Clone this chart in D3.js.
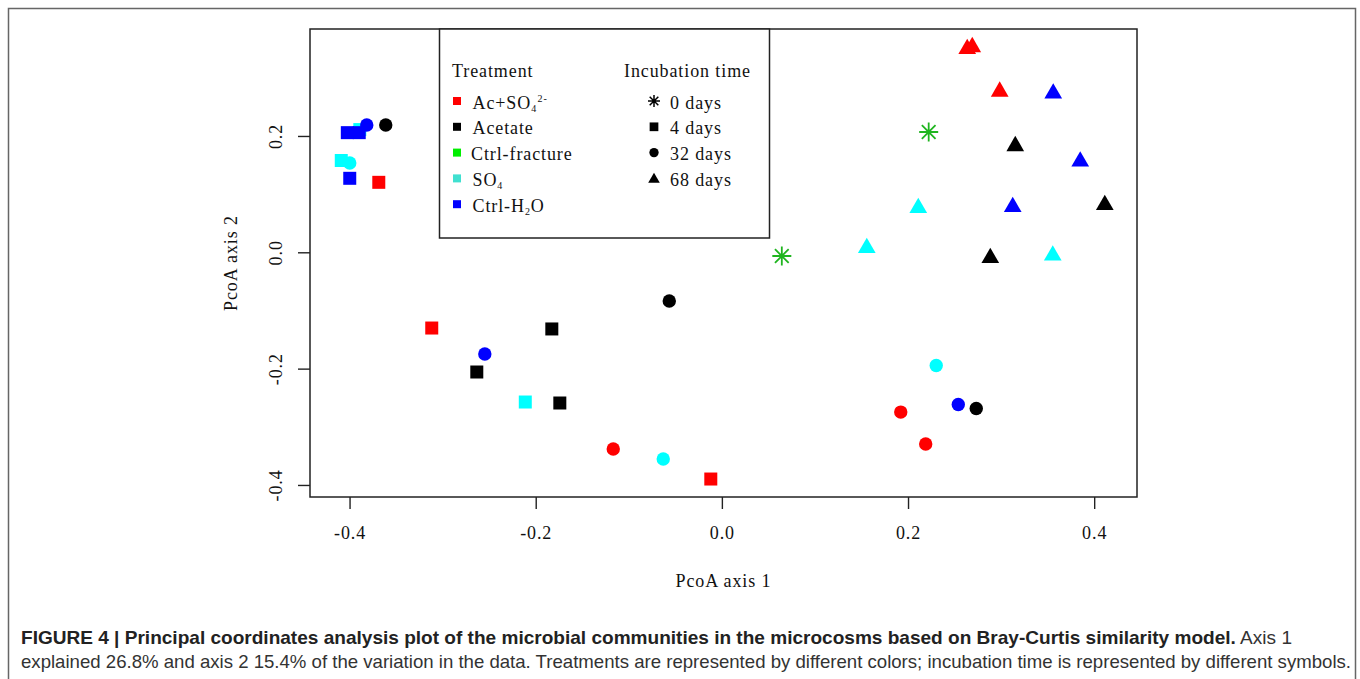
<!DOCTYPE html>
<html>
<head>
<meta charset="utf-8">
<script src="https://cdn.jsdelivr.net/npm/d3@7"></script>
<style>
  body { margin: 0; background: #fff; }
  .serif { font-family: "Liberation Serif", "Times New Roman", serif; letter-spacing: 0.9px; fill: #111; }
  .caption { font-family: "Liberation Sans", Arial, sans-serif; }
</style>
</head>
<body>
<svg id="chart" width="1360" height="679"></svg>
<script>
const treatments = ["Ac+SO4", "Acetate", "Ctrl-fracture", "SO4", "Ctrl-H2O"];
const days = [0, 4, 32, 68];
const dayLabels = ["0 days", "4 days", "32 days", "68 days"];
const xTicks = [-0.4, -0.2, 0.0, 0.2, 0.4];
const yTicks = [-0.4, -0.2, 0.0, 0.2];

// one entry per sample, in the order they get plotted (later ones on top)
const sampleTreatment = [
  "SO4", "Ctrl-H2O", "Ctrl-H2O", "Ctrl-H2O", "Acetate", "SO4", "SO4", "Ctrl-H2O", "Ac+SO4",
  "Ac+SO4", "Ctrl-H2O", "Acetate", "SO4", "Acetate", "Acetate", "Acetate", "Ac+SO4", "SO4", "Ac+SO4",
  "Ac+SO4", "Ac+SO4", "Ac+SO4", "Ctrl-H2O", "Ctrl-fracture", "Acetate", "Ctrl-H2O", "SO4", "Ctrl-H2O",
  "Acetate", "Acetate", "SO4", "SO4", "Ctrl-fracture",
  "SO4", "Ctrl-H2O", "Acetate", "Ac+SO4", "Ac+SO4"
];
const sampleDay = [
  4, 4, 4, 32, 32, 4, 32, 4, 4,
  4, 32, 4, 4, 4, 4, 32, 32, 32, 4,
  68, 68, 68, 68, 0, 68, 68, 68, 68,
  68, 68, 68, 68, 0,
  32, 32, 32, 32, 32
];
const axis1 = [
  -0.389, -0.4024, -0.3896, -0.3815, -0.3611, -0.4089, -0.3998, -0.3998, -0.3686,
  -0.3117, -0.2547, -0.2633, -0.2112, -0.1827, -0.1741, -0.0565, -0.1167, -0.0630, -0.0119,
  0.2636, 0.2690, 0.2985, 0.3560, 0.2222, 0.3152, 0.3850, 0.2110, 0.3125,
  0.4114, 0.2884, 0.3555, 0.1557, 0.0644,
  0.2303, 0.2540, 0.2733, 0.1922, 0.2190
];
const axis2 = [
  0.211, 0.2057, 0.2057, 0.2188, 0.2188, 0.1578, 0.1535, 0.1272, 0.1203,
  -0.1302, -0.1749, -0.2058, -0.2574, -0.1318, -0.2591, -0.0837, -0.3382, -0.3554, -0.3898,
  0.3495, 0.3529, 0.2764, 0.2730, 0.2068, 0.1827, 0.1561, 0.0762, 0.0779,
  0.0813, -0.0098, -0.0055, 0.0074, -0.0064,
  -0.1946, -0.2616, -0.2685, -0.2747, -0.3297
];

const svg = d3.select("#chart");

// plot region (pixel box of the R plot)
const box = { left: 310, top: 29, right: 1137, bottom: 497 };

const x = d3.scaleLinear().domain([-0.4425, 0.446]).range([box.left, box.right]);
const y = d3.scaleLinear().domain([-0.4207, 0.3839]).range([box.bottom, box.top]);

const markColor = d3.scaleOrdinal().domain(treatments)
  .range(["#ff0000", "#000000", "#1fb51f", "#00ffff", "#0000ff"]);
const legendColor = d3.scaleOrdinal().domain(treatments)
  .range(["#ff0000", "#000000", "#00ee00", "#40e0d0", "#0000ff"]);

// R's pch 8: plus and times overlaid
const asterisk8 = {
  draw(ctx, size) {
    const r = Math.sqrt(size) / 2;
    const d = r * 0.72;
    ctx.moveTo(0, -r); ctx.lineTo(0, r);
    ctx.moveTo(-r, 0); ctx.lineTo(r, 0);
    ctx.moveTo(-d, -d); ctx.lineTo(d, d);
    ctx.moveTo(-d, d); ctx.lineTo(d, -d);
  }
};
const dayShape = d3.scaleOrdinal().domain(days)
  .range([asterisk8, d3.symbolSquare, d3.symbolCircle, d3.symbolTriangle]);
const plotSize = d3.scaleOrdinal().domain(days).range([361, 169, 141, 136]);
const legendSize = d3.scaleOrdinal().domain(days).range([144, 76, 68, 58]);

// outer figure frame (open at the bottom, runs off the picture)
svg.append("path")
  .attr("d", "M8.5,679V8.5H1355.5V679")
  .attr("fill", "none").attr("stroke", "#666").attr("stroke-width", 1.5);

// points
const samples = axis1.map((v, i) => ({ a1: v, a2: axis2[i], t: sampleTreatment[i], d: sampleDay[i] }));

svg.append("g").selectAll("path")
  .data(samples)
  .enter()
  .append("path")
  .attr("transform", (s) => `translate(${x(s.a1)},${y(s.a2)})`)
  .attr("d", (s) => d3.symbol().type(dayShape(s.d)).size(plotSize(s.d))())
  .attr("fill", (s) => s.d === 0 ? "none" : markColor(s.t))
  .attr("stroke", (s) => s.d === 0 ? markColor(s.t) : "none")
  .attr("stroke-width", 1.8);

// plot box
svg.append("rect")
  .attr("x", box.left).attr("y", box.top)
  .attr("width", box.right - box.left).attr("height", box.bottom - box.top)
  .attr("fill", "none").attr("stroke", "#222").attr("stroke-width", 1.5);

// axes
const fmt = (d) => d.toFixed(1);

const xAxis = svg.append("g")
  .attr("transform", `translate(0,${box.bottom})`)
  .call(d3.axisBottom(x).tickValues(xTicks).tickFormat(fmt).tickSize(12));
const yAxis = svg.append("g")
  .attr("transform", `translate(${box.left},0)`)
  .call(d3.axisLeft(y).tickValues(yTicks).tickFormat(fmt).tickSize(12));

[xAxis, yAxis].forEach((g) => {
  g.attr("font-family", null).attr("font-size", null);
  g.select(".domain").remove();
  g.selectAll("line").attr("stroke", "#222").attr("stroke-width", 1.4);
  g.selectAll("text").attr("class", "serif").attr("font-size", 18).attr("fill", "#111");
});
xAxis.selectAll("text").attr("y", 42).attr("dy", null);
yAxis.selectAll("text")
  .attr("transform", "rotate(-90)")
  .attr("x", 0).attr("y", -28).attr("dy", null)
  .attr("text-anchor", "middle");

svg.append("text")
  .attr("class", "serif").attr("font-size", 18)
  .attr("x", (box.left + box.right) / 2).attr("y", 587)
  .attr("text-anchor", "middle")
  .text("PcoA axis 1");

svg.append("text")
  .attr("class", "serif").attr("font-size", 18)
  .attr("transform", `translate(237,${(box.top + box.bottom) / 2}) rotate(-90)`)
  .attr("text-anchor", "middle")
  .text("PcoA axis 2");

// legend
const legend = svg.append("g");
legend.append("rect")
  .attr("x", 439.5).attr("y", box.top).attr("width", 330).attr("height", 209)
  .attr("fill", "#fff").attr("stroke", "#222").attr("stroke-width", 1.5);

legend.append("text").attr("class", "serif").attr("font-size", 18)
  .attr("x", 452).attr("y", 77).text("Treatment");
legend.append("text").attr("class", "serif").attr("font-size", 18)
  .attr("x", 624).attr("y", 77).text("Incubation time");

const rowY = (i) => 101 + i * 25.8;

legend.selectAll(".tsq")
  .data(treatments)
  .enter()
  .append("rect")
  .attr("class", "tsq")
  .attr("x", 453).attr("y", (d, i) => rowY(i) - 4)
  .attr("width", 8).attr("height", 8)
  .attr("fill", (d) => legendColor(d));

const tLabels = legend.selectAll(".tlab")
  .data(treatments)
  .enter()
  .append("text")
  .attr("class", "serif tlab").attr("font-size", 18)
  .attr("x", (d) => d === "Ctrl-fracture" ? 471 : 472.5)
  .attr("y", (d, i) => rowY(i) + 7.5);

tLabels.each(function (d) {
  const t = d3.select(this);
  if (d === "Ac+SO4") {
    t.append("tspan").text("Ac+SO");
    t.append("tspan").attr("font-size", 10).attr("dy", 3).text("4");
    t.append("tspan").attr("font-size", 10).attr("dx", 0.5).attr("dy", -9.5).text("2-");
  } else if (d === "SO4") {
    t.append("tspan").text("SO");
    t.append("tspan").attr("font-size", 10).attr("dy", 3).text("4");
  } else if (d === "Ctrl-H2O") {
    t.append("tspan").text("Ctrl-H");
    t.append("tspan").attr("font-size", 10).attr("dy", 3).text("2");
    t.append("tspan").attr("dy", -3).text("O");
  } else {
    t.text(d);
  }
});

legend.selectAll(".dsym")
  .data(days)
  .enter()
  .append("path")
  .attr("class", "dsym")
  .attr("transform", (d, i) => `translate(654,${rowY(i) + (d === 68 ? 1 : 0)})`)
  .attr("d", (d) => d3.symbol().type(dayShape(d)).size(legendSize(d))())
  .attr("fill", (d) => d === 0 ? "none" : "#000")
  .attr("stroke", (d) => d === 0 ? "#000" : "none")
  .attr("stroke-width", 1.5);

legend.selectAll(".dlab")
  .data(dayLabels)
  .enter()
  .append("text")
  .attr("class", "serif dlab").attr("font-size", 18)
  .attr("x", 670).attr("y", (d, i) => rowY(i) + 7.5)
  .text((d) => d);

// caption
const cap1 = svg.append("text")
  .attr("class", "caption").attr("font-size", 19)
  .attr("x", 21).attr("y", 643.5)
  .attr("textLength", 1271).attr("lengthAdjust", "spacingAndGlyphs");
cap1.append("tspan").attr("font-weight", "bold").attr("fill", "#222")
  .text("FIGURE 4 | Principal coordinates analysis plot of the microbial communities in the microcosms based on Bray-Curtis similarity model.");
cap1.append("tspan").attr("fill", "#333").text(" Axis 1");

svg.append("text")
  .attr("class", "caption").attr("font-size", 18.5).attr("fill", "#333")
  .attr("x", 21).attr("y", 668)
  .attr("textLength", 1330).attr("lengthAdjust", "spacingAndGlyphs")
  .text("explained 26.8% and axis 2 15.4% of the variation in the data. Treatments are represented by different colors; incubation time is represented by different symbols.");
</script>
</body>
</html>
